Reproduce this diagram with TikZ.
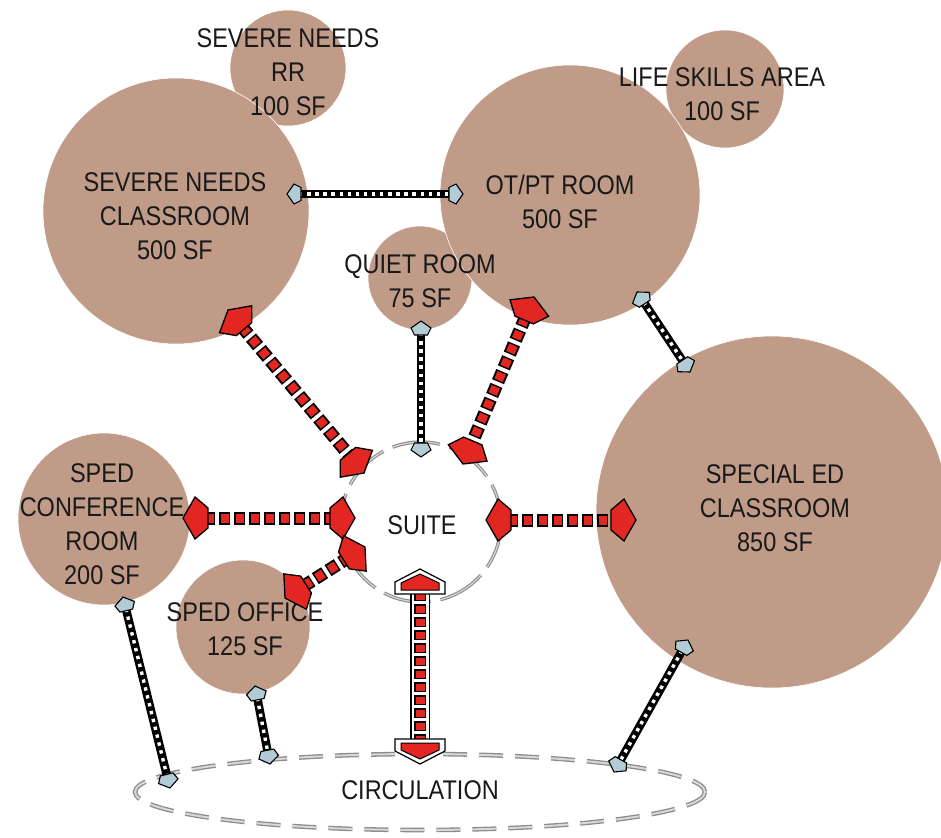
\documentclass[tikz,border=0pt]{standalone}
\usepackage{fontspec}
\setmainfont{Liberation Sans}[FakeStretch=0.87]
\usetikzlibrary{calc,shapes.geometric}
\definecolor{roomc}{RGB}{191,155,136}
\definecolor{redc}{RGB}{226,38,34}
\definecolor{bluec}{RGB}{178,204,214}
\definecolor{lineg}{RGB}{140,140,140}
\definecolor{lineglt}{RGB}{215,215,215}
\tikzset{
  room/.style={circle, fill=roomc, draw=white, line width=0.6pt, inner sep=0pt},
  lbl/.style={font=\fontsize{27}{34}\selectfont, align=center, text=black!90, inner sep=0pt},
  rout/.style={draw=black, line width=13pt, dash pattern=on 11pt off 4pt, shorten <=21pt, shorten >=21pt},
  rin/.style={draw=redc, line width=9pt, dash pattern=on 8pt off 7pt, dash phase=13.5pt, shorten <=21pt, shorten >=21pt},
  sout/.style={draw=black, line width=8.5pt, shorten <=11pt, shorten >=11pt},
  sin/.style={draw=white, line width=3.4pt, dash pattern=on 3.4pt off 4.7pt, shorten <=12pt, shorten >=12pt},
  rhead/.style={fill=redc, draw=black, line width=1.3pt, line join=miter},
  shead/.style={fill=bluec, draw=black, line width=1.1pt, line join=miter},
  bhead/.style={fill=white, draw=black, line width=1.2pt, line join=miter},
  suiteline/.style={draw=lineg, line width=1.1pt, double=lineglt, double distance=1.2pt, dash pattern=on 48pt off 10pt},
  circline/.style={draw=lineg, line width=1.3pt, double=lineglt, double distance=2pt, dash pattern=on 24pt off 12pt},
}
\newcommand\myredhead[2]{%
  \pgfmathanglebetweenpoints{\pgfpointanchor{#2}{center}}{\pgfpointanchor{#1}{center}}%
  \let\hdang\pgfmathresult
  \draw[rhead, shift={(#1)}, rotate=\hdang] (0,0) -- (-12,21) -- (-25,10) -- (-25,-10) -- (-12,-21) -- cycle;}
\newcommand\mysmallhead[2]{%
  \pgfmathanglebetweenpoints{\pgfpointanchor{#2}{center}}{\pgfpointanchor{#1}{center}}%
  \let\hdang\pgfmathresult
  \draw[shead, shift={(#1)}, rotate=\hdang] (0,0) -- (-7,10) -- (-14,6.5) -- (-14,-6.5) -- (-7,-10) -- cycle;}
\newcommand\mybighead[2]{%
  \pgfmathanglebetweenpoints{\pgfpointanchor{#2}{center}}{\pgfpointanchor{#1}{center}}%
  \let\hdang\pgfmathresult
  \draw[bhead, shift={(#1)}, rotate=\hdang] (0,0) -- (-13,25) -- (-25,25) -- (-25,-25) -- (-13,-25) -- cycle;
  \draw[rhead, line width=1pt, shift={(#1)}, rotate=\hdang] (-5,0) -- (-14,19) -- (-21,19) -- (-21,-19) -- (-14,-19) -- cycle;}
\newcommand\myredarrow[2]{\draw[rout] (#1) -- (#2); \draw[rin] (#1) -- (#2); \myredhead{#1}{#2}\myredhead{#2}{#1}}
\newcommand\mysmallarrow[2]{\draw[sout] (#1) -- (#2); \draw[sin] (#1) -- (#2); \mysmallhead{#1}{#2}\mysmallhead{#2}{#1}}
\begin{document}
\begin{tikzpicture}[x=1pt,y=-1pt]
\useasboundingbox (0,0) rectangle (941,837);
% rooms
\node[room, minimum size=116pt] (rr) at (288,68) {};
\node[room, minimum size=266pt] (cls) at (176,211) {};
\node[room, minimum size=118pt] (life) at (725,89) {};
\node[room, minimum size=104pt] (quiet) at (420,278) {};
\node[room, minimum size=260pt] (otpt) at (570,195) {};
\node[room, minimum size=352pt] (sped) at (772,512) {};
\node[room, minimum size=172pt] (conf) at (104,519) {};
\node[room, minimum size=134pt] (office) at (243,627) {};
% suite and circulation
\node[circle, minimum size=160pt, inner sep=0pt] (suite) at (421,522) {};
\draw[suiteline] (suite.center) circle[radius=80];
\node[ellipse, minimum width=570pt, minimum height=76pt, inner sep=0pt] (circ) at (420,792) {};
\draw[circline] (circ.center) ellipse[x radius=285, y radius=38];
% labels
\node[lbl] (tRR) at (288,72) {SEVERE NEEDS\\RR\\100 SF};
\node[lbl] (tcls) at (175,216) {SEVERE NEEDS\\CLASSROOM\\500 SF};
\node[lbl] (tlife) at (722,94) {LIFE SKILLS AREA\\100 SF};
\node[lbl] (totpt) at (560,202) {OT/PT ROOM\\500 SF};
\node[lbl] (tquiet) at (420,281) {QUIET ROOM\\75 SF};
\node[lbl] (tsped) at (775,508) {SPECIAL ED\\CLASSROOM\\850 SF};
\node[lbl] (tconf) at (102,524) {SPED\\CONFERENCE\\ROOM\\200 SF};
\node[lbl] (toff) at (245,629) {SPED OFFICE\\125 SF};
\node[lbl] (tsuite) at (422,525) {SUITE};
\node[lbl] (tcirc) at (420,790) {CIRCULATION};
% connector end points
\coordinate (sA) at (287,194); \coordinate (sB) at (463,194);
\coordinate (r1A) at (228,310); \coordinate (r1B) at (364,473);
\coordinate (s2A) at (421,321); \coordinate (s2B) at (421,457);
\coordinate (r2A) at (534,297); \coordinate (r2B) at (463,464);
\coordinate (s3A) at (637,292); \coordinate (s3B) at (690,372);
\coordinate (r3A) at (183,518); \coordinate (r3B) at (355,518);
\coordinate (r4A) at (285,598); \coordinate (r4B) at (365,547);
\coordinate (r5A) at (486,520); \coordinate (r5B) at (636,520);
\coordinate (s4A) at (123,597); \coordinate (s4B) at (170,788);
\coordinate (s5A) at (255,686); \coordinate (s5B) at (270,764);
\coordinate (s6A) at (688,640); \coordinate (s6B) at (614,772);
\coordinate (bA) at (420,569); \coordinate (bB) at (420,764);
% connectors
\mysmallarrow{sA}{sB}
\myredarrow{r1A}{r1B}
\mysmallarrow{s2A}{s2B}
\myredarrow{r2A}{r2B}
\mysmallarrow{s3A}{s3B}
\myredarrow{r3A}{r3B}
\myredarrow{r4A}{r4B}
\myredarrow{r5A}{r5B}
\mysmallarrow{s4A}{s4B}
\mysmallarrow{s5A}{s5B}
\mysmallarrow{s6A}{s6B}
% big arrow suite - circulation
\draw[black, line width=20pt, shorten <=22pt, shorten >=22pt] (bA) -- (bB);
\draw[white, line width=17pt, shorten <=22pt, shorten >=22pt] (bA) -- (bB);
\draw[black, line width=12pt, dash pattern=on 10pt off 3pt, shorten <=22pt, shorten >=22pt] (bA) -- (bB);
\draw[redc, line width=9pt, dash pattern=on 7pt off 6pt, dash phase=11.5pt, shorten <=22pt, shorten >=22pt] (bA) -- (bB);
\mybighead{bA}{bB}\mybighead{bB}{bA}
\end{tikzpicture}
\end{document}
